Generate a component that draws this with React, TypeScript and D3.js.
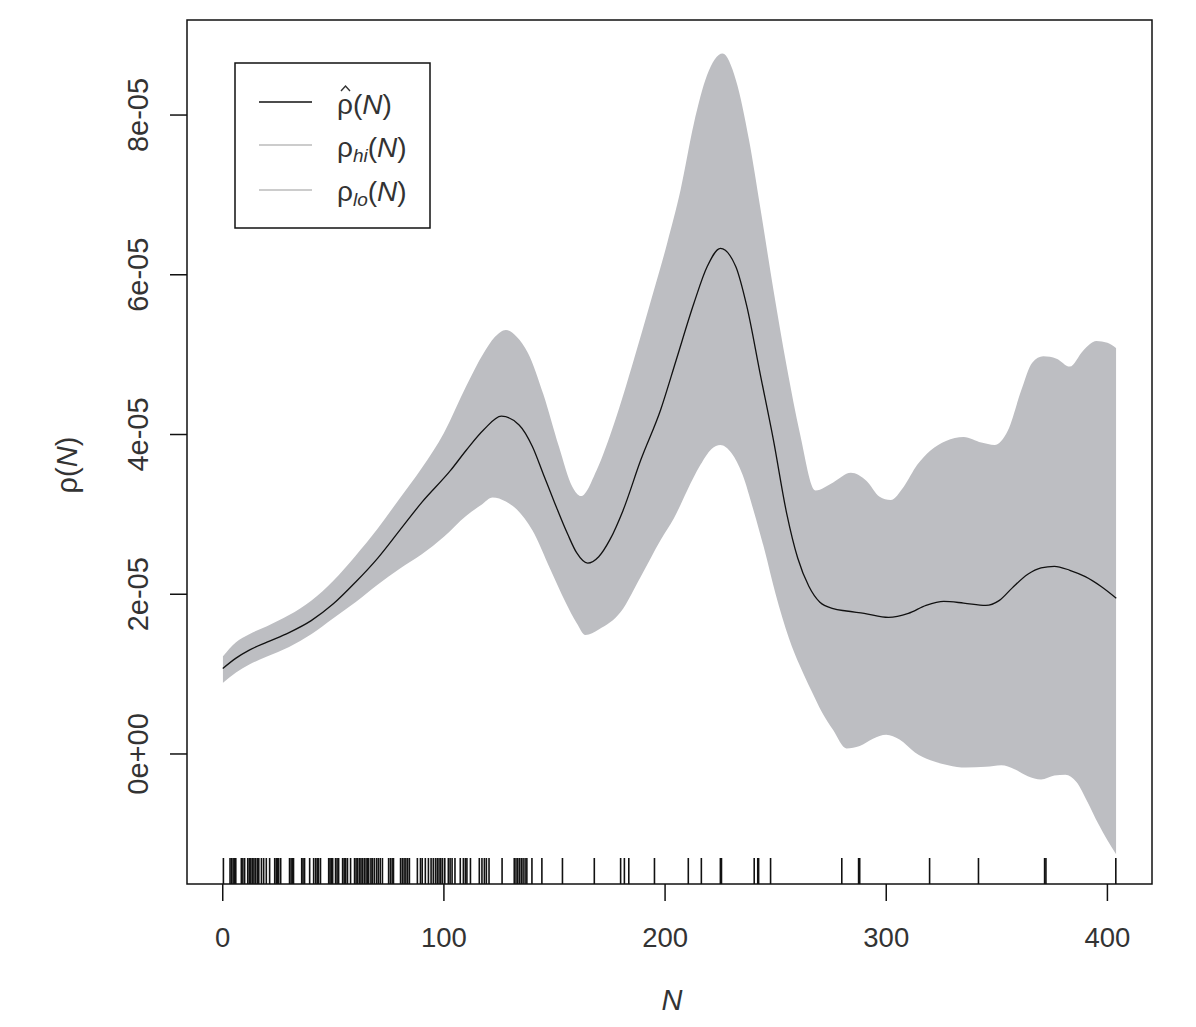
import React from 'react';
import * as d3 from 'd3';

// estimate rho-hat(N), values in units of 1e-5
const estN = [0, 6, 12, 20, 30, 40, 50, 60, 70, 80, 90, 103, 110, 118, 126, 134, 140, 145, 150, 156, 160, 165, 170, 175, 181, 189, 198, 205, 213, 219, 225, 232, 237, 243, 249, 255, 260, 265, 270, 276, 282, 290, 301, 310, 318, 326, 335, 345, 351, 357, 364, 370, 376, 383, 390, 397, 404];
const estV = [1.07, 1.2, 1.3, 1.4, 1.52, 1.67, 1.88, 2.15, 2.45, 2.8, 3.15, 3.55, 3.8, 4.06, 4.23, 4.12, 3.85, 3.5, 3.15, 2.75, 2.52, 2.39, 2.47, 2.68, 3.05, 3.68, 4.31, 4.93, 5.64, 6.1, 6.33, 6.1, 5.6, 4.76, 3.93, 3.01, 2.45, 2.1, 1.9, 1.82, 1.79, 1.76, 1.71, 1.76, 1.86, 1.91, 1.89, 1.86, 1.92, 2.08, 2.25, 2.33, 2.35, 2.3, 2.22, 2.1, 1.95];

// upper band rho_hi(N)
const hiN = [0, 6, 12, 20, 30, 40, 50, 60, 70, 80, 90, 100, 110, 118, 123, 128, 133, 138, 145, 152, 158, 162, 169, 177, 186, 193, 201, 207, 213, 219, 226, 232, 238, 243, 249, 255, 261, 268, 276, 284, 291, 297, 302, 308, 314, 320, 327, 335, 343, 349, 355, 361, 366, 371, 377, 383, 389, 395, 400, 404];
const hiV = [1.22, 1.4, 1.5, 1.6, 1.74, 1.92, 2.17, 2.48, 2.82, 3.2, 3.58, 4.02, 4.6, 5.02, 5.22, 5.31, 5.22, 5.02, 4.5, 3.85, 3.35, 3.23, 3.55, 4.14, 4.95, 5.62, 6.4, 7.06, 7.89, 8.5, 8.77, 8.44, 7.68, 6.85, 5.81, 4.85, 4.01, 3.3, 3.4, 3.52, 3.42, 3.22, 3.18, 3.35, 3.62, 3.8, 3.92, 3.97, 3.9, 3.87, 4.05, 4.55, 4.9, 4.98, 4.95, 4.85, 5.05, 5.17, 5.15, 5.08];

// lower band rho_lo(N)
const loN = [0, 6, 12, 20, 30, 40, 50, 60, 70, 80, 90, 100, 110, 117, 122, 128, 133, 140, 148, 155, 160, 164, 170, 180, 189, 198, 204, 210, 216, 221, 225, 230, 235, 240, 245, 250, 256, 261, 266, 271, 276, 282, 288, 294, 300, 306, 313, 320, 328, 336, 345, 352, 358, 364, 370, 376, 381, 386, 391, 396, 400, 404];
const loV = [0.89, 1.02, 1.12, 1.22, 1.34, 1.5, 1.7, 1.9, 2.12, 2.32, 2.5, 2.72, 2.98, 3.12, 3.21, 3.16, 3.06, 2.8, 2.32, 1.9, 1.64, 1.49, 1.56, 1.78, 2.22, 2.68, 2.95, 3.3, 3.62, 3.82, 3.87, 3.77, 3.5, 3.05, 2.55, 2.0, 1.45, 1.1, 0.8, 0.52, 0.3, 0.07, 0.1, 0.19, 0.24, 0.18, 0.02, -0.08, -0.14, -0.17, -0.16, -0.14, -0.19, -0.28, -0.32, -0.27, -0.26, -0.35, -0.6, -0.88, -1.08, -1.26];

// observed N (rug)
const rugN = [0.3, 3.3, 4.0, 4.7, 5.4, 5.9, 8.4, 9.1, 9.9, 11.3, 12.0, 12.7, 13.4, 14.1, 14.8, 15.6, 16.3, 17.5, 18.5, 19.7, 21.2, 23.5, 24.2, 24.8, 25.3, 26.2, 30.2, 30.9, 31.5, 32, 35.7, 36.3, 37, 39.3, 41.1, 42, 42.7, 43.3, 44.2, 47.9, 48.5, 49.1, 49.7, 51, 51.7, 52.4, 54.2, 54.9, 55.6, 56.4, 57.8, 59.6, 60.3, 61, 61.8, 62.5, 63.2, 64, 64.8, 65.5,
  66, 67, 67.6, 68.5, 69.5, 70.3, 71.2, 72.2, 75, 75.8, 76.6, 77.2, 80.4, 81.2, 82, 82.8, 83.6, 84.4, 88, 89.4, 90.2, 91.6, 93, 94.2, 95.2, 96.2, 97, 97.8, 98.6, 99.4, 100.4, 102, 102.8, 103.7, 105, 107.4, 108.8, 109.7, 110.4, 112, 116, 117.2, 118.3, 119.2, 120.4, 126.3, 131.8, 132.6, 133.4, 134.2, 135, 135.8, 136.7, 137.5, 139.8, 144.3, 153.6, 168, 179.9, 181.6, 183.6, 195.2, 210.5, 216.4, 225.0, 225.5, 240.3, 241.9, 242.3, 247.7, 279.9, 287.5, 288, 319.6, 341.7, 371.6, 372.2, 403.8];

const xTicks = [0, 100, 200, 300, 400];
const yTicks = [0, 2, 4, 6, 8];
const yTickLabels = ['0e+00', '2e-05', '4e-05', '6e-05', '8e-05'];

const W = 1196;
const H = 1027;
const left = 187;
const right = 1152;
const top = 20;
const bottom = 884;
const font = '"Liberation Sans", Arial, Helvetica, sans-serif';
const bandFill = '#bdbec2';

const App: React.FC = () => {
  // R-style 4% padding around the data range
  const x = d3.scaleLinear().domain([-16.16, 420.16]).range([left, right]);
  const y = d3.scaleLinear().domain([-1.628, 9.19]).range([bottom, top]);

  const curve = d3.curveMonotoneX;
  const line = d3.line<[number, number]>().x((d) => x(d[0])).y((d) => y(d[1])).curve(curve);
  const pairs = (ns: number[], vs: number[]) => ns.map((n, i) => [n, vs[i]] as [number, number]);

  // band = area under hi, clipped to the region above lo
  const underHi = d3.area<[number, number]>().x((d) => x(d[0])).y0(bottom + 40).y1((d) => y(d[1])).curve(curve);
  const aboveLo = d3.area<[number, number]>().x((d) => x(d[0])).y0(top - 40).y1((d) => y(d[1])).curve(curve);

  const estPath = line(pairs(estN, estV)) || '';

  return (
    <svg width={W} height={H} style={{ position: 'absolute', left: 0, top: 0, background: '#fff' }} fontFamily={font}>
      <defs>
        <clipPath id="loClip">
          <path d={aboveLo(pairs(loN, loV)) || ''} />
        </clipPath>
      </defs>
      <rect x={0} y={0} width={W} height={H} fill="#fff" />
      <path d={underHi(pairs(hiN, hiV)) || ''} fill={bandFill} stroke="none" clipPath="url(#loClip)" />
      <path d={estPath} fill="none" stroke="#111" strokeWidth={1.3} />

      {rugN.map((n, i) => (
        <line key={i} x1={x(n)} x2={x(n)} y1={bottom} y2={bottom - 26} stroke="#111" strokeWidth={1.6} />
      ))}

      <rect x={left} y={top} width={right - left} height={bottom - top} fill="none" stroke="#111" strokeWidth={1.5} />

      {xTicks.map((t) => (
        <g key={t}>
          <line x1={x(t)} x2={x(t)} y1={bottom} y2={bottom + 17} stroke="#111" strokeWidth={1.5} />
          <text x={x(t)} y={947} textAnchor="middle" fontSize={27.5} fill="#333">{t}</text>
        </g>
      ))}

      {yTicks.map((t, i) => (
        <g key={t}>
          <line x1={left - 17} x2={left} y1={y(t)} y2={y(t)} stroke="#111" strokeWidth={1.5} />
          <text transform={`translate(148,${y(t)}) rotate(-90)`} textAnchor="middle" fontSize={29} fill="#333">{yTickLabels[i]}</text>
        </g>
      ))}

      <text x={672} y={1010} textAnchor="middle" fontSize={29} fontStyle="italic" fill="#333">N</text>
      <text transform={`translate(77,465) rotate(-90)`} textAnchor="middle" fontSize={29} fill="#333">
        ρ(<tspan fontStyle="italic">N</tspan>)
      </text>

      {/* legend */}
      <rect x={235} y={63} width={195} height={165} fill="#fff" stroke="#111" strokeWidth={1.5} />
      <line x1={259} x2={312} y1={102} y2={102} stroke="#111" strokeWidth={1.5} />
      <line x1={259} x2={312} y1={145} y2={145} stroke="#bbb" strokeWidth={1.3} />
      <line x1={259} x2={312} y1={190} y2={190} stroke="#bbb" strokeWidth={1.3} />
      <text x={337} y={114} fontSize={28} fill="#333">
        ρ(<tspan fontStyle="italic">N</tspan>)
      </text>
      <path d="M341,91 L345.5,86 L350,91" fill="none" stroke="#333" strokeWidth={1.4} />
      <text x={337} y={157} fontSize={28} fill="#333">
        ρ<tspan fontSize={19} fontStyle="italic" dy={5}>hi</tspan>
        <tspan dy={-5}>(</tspan>
        <tspan fontStyle="italic">N</tspan>)
      </text>
      <text x={337} y={201} fontSize={28} fill="#333">
        ρ<tspan fontSize={19} fontStyle="italic" dy={5}>lo</tspan>
        <tspan dy={-5}>(</tspan>
        <tspan fontStyle="italic">N</tspan>)
      </text>
    </svg>
  );
};

export default App;
